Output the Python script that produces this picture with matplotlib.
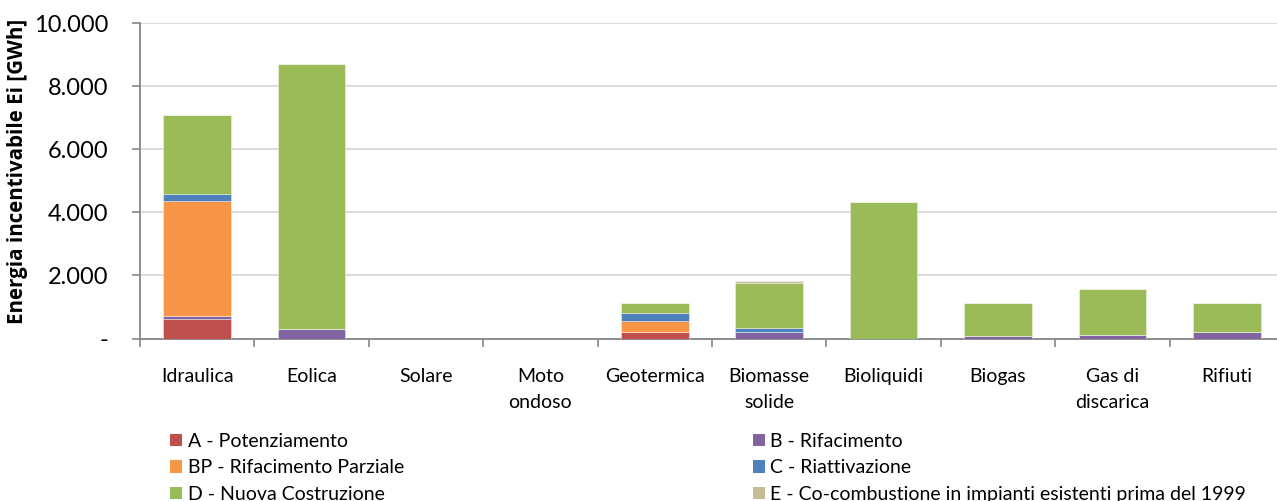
import matplotlib
matplotlib.use("Agg")
import matplotlib.pyplot as plt
from matplotlib.patches import Patch
from matplotlib.ticker import FixedLocator, FuncFormatter
import numpy as np

plt.rcParams['font.family'] = ['Lato', 'DejaVu Sans']

categories = ["Idraulica", "Eolica", "Solare", "Moto\nondoso", "Geotermica",
              "Biomasse\nsolide", "Bioliquidi", "Biogas", "Gas di\ndiscarica", "Rifiuti"]

# GWh per intervention type
a_potenziamento = [610, 0, 0, 0, 215, 0, 0, 0, 0, 0]
b_rifacimento = [100, 300, 0, 0, 0, 196, 0, 90, 120, 215]
bp_rifacimento_parziale = [3640, 0, 0, 0, 340, 0, 0, 0, 0, 0]
c_riattivazione = [245, 0, 0, 0, 245, 146, 0, 0, 0, 0]
d_nuova_costruzione = [2480, 8415, 0, 0, 315, 1406, 4330, 1030, 1450, 900]
e_co_combustione = [0, 0, 0, 0, 0, 73, 0, 0, 0, 0]

series = [
    ("A - Potenziamento", a_potenziamento, "#C0504D"),
    ("B - Rifacimento", b_rifacimento, "#8064A2"),
    ("BP - Rifacimento Parziale", bp_rifacimento_parziale, "#F79646"),
    ("C - Riattivazione", c_riattivazione, "#4F81BD"),
    ("D - Nuova Costruzione", d_nuova_costruzione, "#9BBB59"),
    ("E - Co-combustione in impianti esistenti prima del 1999", e_co_combustione, "#C4BD97"),
]

W, H = 1277, 501
fig = plt.figure(figsize=(W / 100, H / 100), dpi=100)
ax_left, ax_right = 140, 1284
ax_top, ax_bottom = 23, 338.5
ax = fig.add_axes([ax_left / W, (H - ax_bottom) / H,
                   (ax_right - ax_left) / W, (ax_bottom - ax_top) / H])

x = np.arange(len(categories))
bottom = np.zeros(len(categories))
for label, vals, color in series:
    vals = np.array(vals, dtype=float)
    ax.bar(x, vals, width=0.59, bottom=bottom, color=color,
           edgecolor=(1, 1, 1, 0.45), linewidth=0.6, zorder=3)
    bottom += vals

ax.set_xlim(-0.5, len(categories) - 0.5)
ax.set_ylim(0, 10000)

ax.yaxis.set_major_locator(FixedLocator(np.arange(0, 10001, 2000)))
ax.yaxis.set_major_formatter(FuncFormatter(
    lambda v, p: "-" if v == 0 else f"{int(v):,}".replace(",", ".")))
ax.grid(axis='y', color='#D9D9D9', linewidth=1.3, zorder=0)
ax.set_axisbelow(True)

ax.set_xticks(x)
ax.set_xticklabels(categories, fontsize=14, linespacing=1.7)
ax.tick_params(axis='x', which='major', length=0, pad=21)
ax.xaxis.set_minor_locator(FixedLocator(np.arange(-0.5, len(categories), 1.0)))
ax.tick_params(axis='x', which='minor', length=6, width=1.2, color='#868686', direction='out')
ax.tick_params(axis='y', length=6, width=1.2, color='#868686', labelsize=17, pad=17)

for side in ('top', 'right'):
    ax.spines[side].set_visible(False)
for side in ('left', 'bottom'):
    ax.spines[side].set_color('#868686')
    ax.spines[side].set_linewidth(1.3)

fig.text(18 / W, (H - 171) / H, "Energia incentivabile Ei [GWh]", rotation=90,
         fontsize=14.8, fontweight='bold', family=['Open Sans', 'DejaVu Sans'],
         ha='center', va='center')

handles = [Patch(facecolor=c, edgecolor='none', label=l) for l, _, c in series]
legend_kw = dict(loc='upper left', frameon=False, fontsize=14, handlelength=0.6,
                 handleheight=0.6, handletextpad=0.3, labelspacing=0.48,
                 borderpad=0, borderaxespad=0)
leg1 = fig.legend([handles[i] for i in (0, 2, 4)], [series[i][0] for i in (0, 2, 4)],
                  bbox_to_anchor=(170 / W, 1 - 433 / H), **legend_kw)
leg2 = fig.legend([handles[i] for i in (1, 3, 5)], [series[i][0] for i in (1, 3, 5)],
                  bbox_to_anchor=(753 / W, 1 - 433 / H), **legend_kw)

fig.savefig("out.png", dpi=100)
